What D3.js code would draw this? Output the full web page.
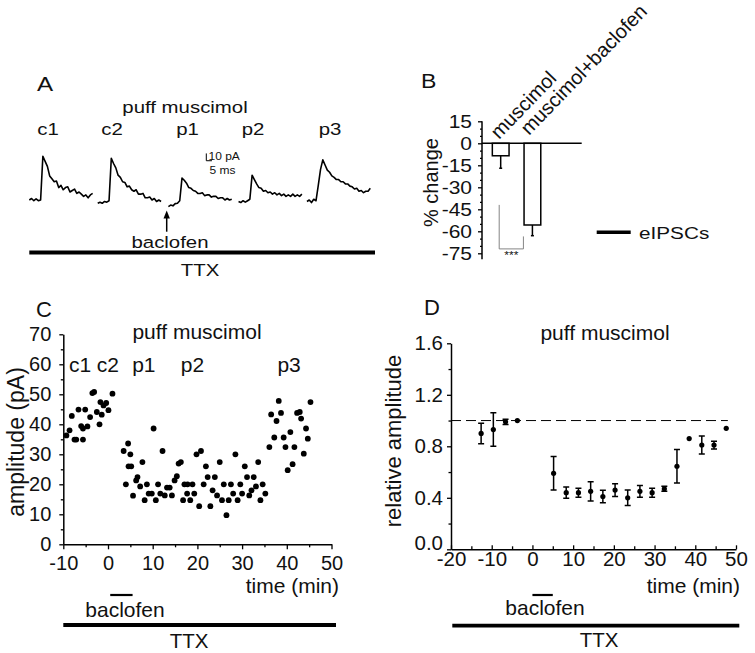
<!DOCTYPE html>
<meta charset="utf-8">
<head>
    <title>puff muscimol figure</title>
    <script src="https://cdn.jsdelivr.net/npm/d3@7"></script>
</head>

<style>
    body { margin: 0; background: #fff; }
    svg { font-family: "Liberation Sans", Arial, sans-serif; }
    text { fill: #111; }
</style>

<svg width="755" height="653"></svg>

<script>
    // ---- panel A: example traces (pA, one value every 2 ms) ----
    var traceNames = ["c1", "c2", "p1", "p2", "p3"];
    var traceStart = [0, 60.5, 123, 185, 245.5];   // ms
    var traceStep = 2;
    var traces = [
        [0, 2, -1, 1.5, -1, 0, 60, 53, 46, 33, 29, 25, 26, 17, 20, 14, 17, 18, 11, 13, 15, 9, 11, 8, 5, 7, 3, 7, 9],
        [-4.5, -3, -4.5, -2, -3, -1, 57, 50, 44, 34, 31, 25, 24, 18, 19, 14, 12, 14, 8, 8, 9, 3, 3, 4, 0, 2, -2, 0, -2],
        [-9, -7, -8, -5, -4.5, -1, 30, 27, 23, 17, 16, 13, 12, 9, 9, 10, 6, 7, 7, 4, 5, 5, 2, 3, 3, 0, 2, 0, 1],
        [-2, -3.5, -1, -3, -1, 1, 34, 28, 22, 17, 16, 12, 13, 10, 11, 8, 10, 7, 9, 6, 8, 5, 7, 5, 8, 5, 7, 5, 8],
        [-2, 0, -3.5, 1, -1, 20, 42, 55, 48, 41, 38, 33, 31, 28, 28, 25, 25, 22, 22, 19, 18, 15, 16, 12, 13, 10, 12, 12, 16]
    ];

    // ---- panel B: % change ----
    var bCats = ["muscimol", "muscimol+baclofen"];
    var bMean = [-8.5, -55.7];
    var bErr = [8.5, 7.3];
    var bTicks = [15, 0, -15, -30, -45, -60, -75];

    // ---- panel C: single cell amplitudes ----
    var cTime = [-9.3, -8.6, -8.1, -7.5, -7.1, -6.6, -6.0, -5.6, -5.6, -5.1, -4.6, -4.0, -3.5, -3.1, -2.5, -1.9, -1.7, -1.4, -1.0, -0.4, 0.1, 1.0,
        3.5, 4.5, 4.0, 5.0, 4.6, 5.2, 5.6, 6.3, 6.6, 7.7, 7.2, 8.2, 8.7, 9.1, 9.8, 10.2, 10.7, 11.2, 11.7, 12.2, 12.7, 13.2, 13.8, 14.3, 14.9, 15.4, 15.8, 16.3, 16.8, 17.1,
        17.8, 17.7, 18.4, 18.9, 19.3, 19.8, 20.8, 20.4, 21.4, 21.9, 22.3, 22.9, 23.4, 23.9, 24.4, 25.0, 25.5, 25.9, 26.5, 27.0, 27.5, 28.0, 28.5, 29.0, 29.6, 30.0, 30.6, 31.1, 31.6, 32.1, 32.6, 33.1, 33.6, 34.1, 34.6, 35.2,
        36.1, 36.5, 37.2, 37.7, 38.2, 38.7, 39.3, 39.7, 40.2, 40.8, 41.3, 41.7, 42.3, 42.9, 43.2, 43.8, 44.3, 44.7, 45.3];
    var cAmp = [36.3, 38, 42.8, 34.9, 34.9, 44.9, 39.4, 34.9, 38.6, 44.9, 39.3, 42.4, 50.4, 50.8, 44.1, 40, 47.4, 43.2, 46.3, 47.1, 44.7, 50.2,
        31.1, 33.6, 20, 30, 26, 26, 16.2, 21.3, 22.4, 27.4, 19.3, 14.7, 20, 16.9, 16.9, 38.6, 14.7, 20, 16.9, 31.1, 16.3, 18.9, 18.9, 16.3, 21.3, 22.7, 26.9, 27.4, 14.7, 20,
        20, 16.9, 14.7, 20, 16.9, 30, 31.1, 12.7, 20, 26, 22.4, 12.7, 18, 22.4, 16.3, 27.4, 14.7, 20, 9.7, 14.7, 20, 16.9, 30, 14.7, 20, 16.9, 26, 22.4, 16.3, 18, 22.4, 19.3, 27.4, 14.7, 20, 16.9,
        32.4, 43.3, 35.6, 41.1, 47.8, 43.8, 35.6, 32.4, 24.7, 37.4, 26.7, 32.4, 43.8, 44.1, 41.9, 30.2, 38.6, 35.2, 47.4];
    var cLabels = ["c1", "c2", "p1", "p2", "p3"];
    var cLabelTime = [-8.7, -2.5, 5.4, 16.3, 37.9];   // label left edges, min

    // ---- panel D: relative amplitude, mean ± sem ----
    var dTime = [-12.6, -9.6, -6.6, -3.7, 5.2, 8.3, 11.3, 14.3, 17.3, 20.3, 23.4, 26.4, 29.4, 32.4, 35.5, 38.5, 41.6, 44.6, 47.6];
    var dMean = [0.90, 0.93, 0.99, 1.00, 0.59, 0.44, 0.44, 0.45, 0.41, 0.46, 0.40, 0.45, 0.44, 0.47, 0.645, 0.86, 0.81, 0.81, 0.94];
    var dErr = [0.08, 0.13, 0.02, 0, 0.13, 0.044, 0.035, 0.075, 0.048, 0.05, 0.06, 0.045, 0.035, 0.02, 0.13, 0, 0.07, 0.03, 0];

    var baclofenC = [0.5, 5.5];
    var baclofenD = [0, 5];

    var svg = d3.select("svg");
    var plain = function (d) { return String(d); };   // keep hyphen minus like the original

    // text helper (panels A and B are a bit stretched horizontally)
    function txt(x, y, s, size, anchor, sx) {
        return svg.append("text")
            .attr("transform", "translate(" + x + "," + y + ") scale(" + (sx || 1) + ",1)")
            .attr("font-size", size)
            .attr("text-anchor", anchor || "start")
            .text(s);
    }
    function hline(x1, x2, y, w, col) {
        svg.append("line").attr("x1", x1).attr("x2", x2).attr("y1", y).attr("y2", y)
            .attr("stroke", col || "#000").attr("stroke-width", w);
    }
    function styleAxis(g, fs) {
        g.attr("font-family", null).attr("font-size", fs);
        g.select(".domain").attr("stroke", "#000").attr("stroke-width", 1.5);
        g.selectAll(".tick line").attr("stroke", "#000").attr("stroke-width", 1.3);
        g.selectAll(".tick text").attr("fill", "#111");
    }

    // ================= A =================
    var xA = d3.scaleLinear().domain([0, 303]).range([29.3, 372]);
    var yA = d3.scaleLinear().domain([0, 10]).range([200, 192.7]);
    var lineA = d3.line().x(function (d) { return xA(d[0]); }).y(function (d) { return yA(d[1]); });

    svg.append("g").selectAll("path").data(traces).enter()
        .append("path")
        .attr("d", function (vals, i) {
            return lineA(vals.map(function (v, j) { return [traceStart[i] + j * traceStep, v]; }));
        })
        .attr("fill", "none").attr("stroke", "#000").attr("stroke-width", 1.6)
        .attr("stroke-linejoin", "round");

    txt(37, 91, "A", 21, "start", 1.15);
    txt(185, 113, "puff muscimol", 17, "middle", 1.2);
    var aLabelX = [48, 112, 187.5, 253, 330];
    traceNames.forEach(function (n, i) { txt(aLabelX[i], 135, n, 17, "middle", 1.2); });

    // scale bar 10 pA / 5 ms
    var sbT = 156.5, sbV = 53.8;
    svg.append("path")
        .attr("d", "M" + xA(sbT) + "," + yA(sbV + 10) + "V" + yA(sbV) + "H" + xA(sbT + 5))
        .attr("fill", "none").attr("stroke", "#000").attr("stroke-width", 1);
    txt(208.5, 160, "10 pA", 10, "start", 1.2);
    txt(209.5, 173.5, "5 ms", 10, "start", 1.2);

    // baclofen arrow
    svg.append("line").attr("x1", 166.7).attr("x2", 166.7).attr("y1", 231.7).attr("y2", 216)
        .attr("stroke", "#000").attr("stroke-width", 1.5);
    svg.append("path").attr("d", "M163.5,218.5L166.7,210.5L169.9,218.5Z").attr("fill", "#000");
    txt(170, 248.3, "baclofen", 17, "middle", 1.2);
    hline(29.3, 375, 252.5, 3.8);
    txt(200, 276, "TTX", 17, "middle", 1.2);

    // ================= B =================
    var yB = d3.scaleLinear().domain([-75, 15]).range([253.3, 121.3]);
    var xB = d3.scaleBand().domain(bCats).range([484.4, 548.7]).paddingInner(0.473).paddingOuter(0.25);
    var axB = 482;

    var gB = svg.append("g").attr("transform", "translate(" + axB + ",0)")
        .call(d3.axisLeft(yB).tickValues(bTicks).tickSize(4).tickSizeOuter(0).tickFormat(""));
    styleAxis(gB, 17);
    gB.select(".domain").remove();
    svg.append("line").attr("x1", axB).attr("x2", axB).attr("y1", yB(15)).attr("y2", yB(-79))
        .attr("stroke", "#000").attr("stroke-width", 1.5);
    var gBm = svg.append("g").attr("transform", "translate(" + axB + ",0)")
        .call(d3.axisLeft(yB).tickValues(d3.range(-75, 16, 5).filter(function (v) { return v % 15 !== 0; }))
            .tickSize(2).tickFormat(""));
    styleAxis(gBm, 17);
    gBm.select(".domain").remove();
    bTicks.forEach(function (t) { txt(472, yB(t) + 6.3, plain(t), 17.5, "end", 1.2); });

    svg.append("text")
        .attr("transform", "translate(438,182.5) rotate(-90)")
        .attr("font-size", 20).attr("text-anchor", "middle").text("% change");

    // bars
    svg.append("g").selectAll("rect").data(bCats).enter().append("rect")
        .attr("x", function (d) { return xB(d); })
        .attr("width", xB.bandwidth())
        .attr("y", yB(0))
        .attr("height", function (d, i) { return yB(bMean[i]) - yB(0); })
        .attr("fill", "#fff").attr("stroke", "#000").attr("stroke-width", 1.5);
    bCats.forEach(function (c, i) {
        var cx = xB(c) + xB.bandwidth() / 2;
        svg.append("line").attr("x1", cx).attr("x2", cx)
            .attr("y1", yB(bMean[i])).attr("y2", yB(bMean[i] - bErr[i]))
            .attr("stroke", "#000").attr("stroke-width", 1.5);
        svg.append("line").attr("x1", cx - 1.5).attr("x2", cx + 1.5)
            .attr("y1", yB(bMean[i] - bErr[i])).attr("y2", yB(bMean[i] - bErr[i]))
            .attr("stroke", "#000").attr("stroke-width", 1.5);
    });
    hline(axB, 581.7, yB(0), 1.6);

    // diagonal category labels
    var bLabPos = [[499, 140], [529, 136]];
    bCats.forEach(function (c, i) {
        svg.append("text")
            .attr("transform", "translate(" + bLabPos[i][0] + "," + bLabPos[i][1] + ") rotate(-46)")
            .attr("font-size", 20).text(c);
    });

    // significance bracket
    var bxL = xB(bCats[0]) + xB.bandwidth() / 2 - 1.5, bxR = xB(bCats[1]) + xB.bandwidth() / 2 - 9;
    svg.append("path")
        .attr("d", "M" + bxL + "," + yB(-42) + "V" + yB(-72) + "H" + bxR + "V" + yB(-63.5))
        .attr("fill", "none").attr("stroke", "#777").attr("stroke-width", 0.9);
    txt((bxL + bxR) / 2, 259, "***", 10, "middle", 1.2).attr("fill", "#333");

    txt(421, 88.3, "B", 21, "start", 1.1);

    // legend
    hline(596.7, 630.7, 232.3, 3.6);
    txt(639, 238.5, "eIPSCs", 17, "start", 1.22);

    // ================= C =================
    var xC = d3.scaleLinear().domain([-10, 50]).range([63.3, 331.5]);
    var yC = d3.scaleLinear().domain([0, 70]).range([544.3, 334.3]);

    var gCx = svg.append("g").attr("transform", "translate(0," + yC(0) + ")")
        .call(d3.axisBottom(xC).tickValues(d3.range(-10, 51, 10)).tickFormat(plain)
            .tickSize(5).tickSizeOuter(0).tickPadding(7));
    styleAxis(gCx, 20);
    var gCxm = svg.append("g").attr("transform", "translate(0," + yC(0) + ")")
        .call(d3.axisBottom(xC).tickValues(d3.range(-5, 50, 10)).tickSize(3).tickFormat(""));
    styleAxis(gCxm, 20); gCxm.select(".domain").remove();

    var gCy = svg.append("g").attr("transform", "translate(" + xC(-10) + ",0)")
        .call(d3.axisLeft(yC).tickValues(d3.range(0, 71, 10)).tickFormat(plain)
            .tickSize(4).tickSizeOuter(0).tickPadding(8));
    styleAxis(gCy, 20);
    var gCym = svg.append("g").attr("transform", "translate(" + xC(-10) + ",0)")
        .call(d3.axisLeft(yC).tickValues(d3.range(5, 70, 10)).tickSize(2.5).tickFormat(""));
    styleAxis(gCym, 20); gCym.select(".domain").remove();

    svg.append("g").selectAll("circle").data(cTime).enter().append("circle")
        .attr("cx", function (d) { return xC(d); })
        .attr("cy", function (d, i) { return yC(cAmp[i]); })
        .attr("r", 2.9).attr("fill", "#000");

    txt(36, 317, "C", 22);
    txt(197, 339.3, "puff muscimol", 21, "middle");
    cLabels.forEach(function (n, i) { txt(xC(cLabelTime[i]), 371.7, n, 21); });
    svg.append("text").attr("transform", "translate(24,442) rotate(-90)")
        .attr("font-size", 23).attr("text-anchor", "middle").text("amplitude (pA)");
    txt(339, 593, "time (min)", 21, "end");
    hline(xC(baclofenC[0]), xC(baclofenC[1]), 595, 2.2);
    txt(125, 616.7, "baclofen", 21, "middle");
    hline(63.3, 336, 625, 3.8);
    txt(189, 648, "TTX", 20.5, "middle");

    // ================= D =================
    var xD = d3.scaleLinear().domain([-20, 50]).range([451, 736]);
    var yD = d3.scaleLinear().domain([0, 1.6]).range([549.3, 343.3]);

    var gDx = svg.append("g").attr("transform", "translate(0," + yD(0) + ")")
        .call(d3.axisBottom(xD).tickValues(d3.range(-20, 51, 10)).tickFormat(plain)
            .tickSize(-4).tickSizeOuter(0).tickPadding(2.5));
    styleAxis(gDx, 20.5);
    var gDxm = svg.append("g").attr("transform", "translate(0," + yD(0) + ")")
        .call(d3.axisBottom(xD).tickValues(d3.range(-15, 50, 10)).tickSize(-3).tickFormat(""));
    styleAxis(gDxm, 20.5); gDxm.select(".domain").remove();

    var gDy = svg.append("g").attr("transform", "translate(" + xD(-20) + ",0)")
        .call(d3.axisLeft(yD).tickValues([0, 0.4, 0.8, 1.2, 1.6]).tickFormat(d3.format(".1f"))
            .tickSize(4).tickSizeOuter(0).tickPadding(4));
    styleAxis(gDy, 20.5);
    // the 0.0 label sits a little higher so it clears the x labels
    gDy.selectAll(".tick text").filter(function (d) { return d === 0; }).attr("y", -6.5);
    var gDym = svg.append("g").attr("transform", "translate(" + xD(-20) + ",0)")
        .call(d3.axisLeft(yD).tickValues([0.2, 0.6, 1.0, 1.4]).tickSize(2.5).tickFormat(""));
    styleAxis(gDym, 20.5); gDym.select(".domain").remove();

    // reference line at 1.0
    svg.append("line").attr("x1", xD(-20)).attr("x2", xD(48)).attr("y1", yD(1)).attr("y2", yD(1))
        .attr("stroke", "#000").attr("stroke-width", 1).attr("stroke-dasharray", "10,5");

    var gD = svg.append("g");
    dTime.forEach(function (t, i) {
        if (dErr[i] > 0) {
            var x = xD(t), y1 = yD(dMean[i] + dErr[i]), y2 = yD(dMean[i] - dErr[i]);
            gD.append("path")
                .attr("d", "M" + x + "," + y1 + "V" + y2 + "M" + (x - 3) + "," + y1 + "H" + (x + 3) + "M" + (x - 3) + "," + y2 + "H" + (x + 3))
                .attr("fill", "none").attr("stroke", "#000").attr("stroke-width", 1.5);
        }
    });
    gD.selectAll("circle").data(dTime).enter().append("circle")
        .attr("cx", function (d) { return xD(d); })
        .attr("cy", function (d, i) { return yD(dMean[i]); })
        .attr("r", 2.6).attr("fill", "#000");

    txt(424, 315, "D", 22);
    txt(605, 340, "puff muscimol", 21, "middle");
    svg.append("text").attr("transform", "translate(401,441) rotate(-90)")
        .attr("font-size", 22).attr("text-anchor", "middle").text("relative amplitude");
    txt(740, 593, "time (min)", 21, "end");
    hline(xD(baclofenD[0]), xD(baclofenD[1]), 595, 2.2);
    txt(545, 615, "baclofen", 21, "middle");
    hline(452.3, 739.3, 625.7, 3.8);
    txt(599, 646.7, "TTX", 20.5, "middle");
</script>
